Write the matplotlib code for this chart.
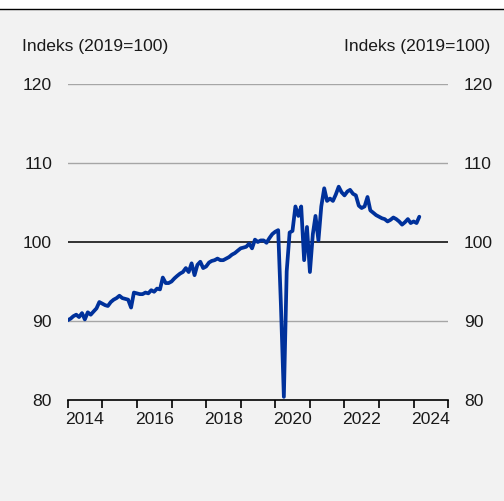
import matplotlib
matplotlib.use("Agg")
import matplotlib.pyplot as plt
import matplotlib.dates as mdates
import pandas as pd
import numpy as np

plt.rcParams['font.family'] = ['Liberation Sans', 'DejaVu Sans']

# Monthly index, 2019 = 100, January 2014 - March 2024
v2014 = [90.1, 90.3, 90.6, 90.8, 90.5, 91.0, 90.2, 91.1, 90.8, 91.2, 91.6, 92.4]
v2015 = [92.2, 92.0, 91.9, 92.4, 92.7, 92.9, 93.2, 92.9, 92.8, 92.7, 91.7, 93.6]
v2016 = [93.5, 93.4, 93.4, 93.6, 93.5, 93.9, 93.7, 94.1, 94.0, 95.5, 94.8, 94.8]
v2017 = [95.0, 95.4, 95.7, 96.0, 96.2, 96.7, 96.2, 97.3, 95.8, 97.1, 97.5, 96.7]
v2018 = [96.9, 97.4, 97.6, 97.7, 97.9, 97.7, 97.7, 97.9, 98.1, 98.4, 98.6, 98.9]
v2019 = [99.2, 99.3, 99.4, 99.8, 99.2, 100.3, 100.0, 100.2, 100.2, 99.9, 100.5, 101.0]
v2020 = [101.3, 101.5, 92.0, 80.4, 96.3, 101.2, 101.4, 104.5, 103.3, 104.5, 97.7, 101.9]
v2021 = [96.2, 101.0, 103.3, 100.2, 104.5, 106.8, 105.2, 105.5, 105.2, 106.0, 107.0, 106.3]
v2022 = [105.9, 106.4, 106.6, 106.1, 105.9, 104.6, 104.3, 104.5, 105.7, 104.0, 103.7, 103.4]
v2023 = [103.2, 103.0, 102.9, 102.6, 102.8, 103.1, 102.9, 102.6, 102.2, 102.5, 102.9, 102.4]
v2024 = [102.6, 102.4, 103.2]

values = v2014 + v2015 + v2016 + v2017 + v2018 + v2019 + v2020 + v2021 + v2022 + v2023 + v2024
dates = pd.date_range("2014-01-01", periods=len(values), freq="MS")

year_ticks = list(range(2014, 2026))
year_labels = ["2014", "2016", "2018", "2020", "2022", "2024"]
y_ticks = [80, 90, 100, 110, 120]
y_title = "Indeks (2019=100)"

W, H = 504, 501
fig = plt.figure(figsize=(W / 100, H / 100), dpi=100)
fig.patch.set_facecolor("white")

# grey panel below the top rule
fig.add_artist(plt.Rectangle((0, 0), 1, 1 - 9 / H, transform=fig.transFigure,
                             facecolor="#f2f2f2", edgecolor="none", zorder=0))
fig.add_artist(plt.Line2D([0, 1], [1 - 9 / H, 1 - 9 / H], transform=fig.transFigure,
                          color="black", lw=1.0, zorder=1))

left, right = 67.7 / W, 448.3 / W
bottom, top = 1 - 400 / H, 1 - 84 / H
ax = fig.add_axes([left, bottom, right - left, top - bottom])
ax.set_facecolor("none")

ax.set_ylim(80, 120)
ax.set_xlim(mdates.date2num(pd.Timestamp("2014-01-01")),
            mdates.date2num(pd.Timestamp("2025-01-01")))

for y in y_ticks[1:]:
    if y == 100:
        ax.axhline(y, color="#222222", lw=1.3, zorder=2)
    else:
        ax.axhline(y, color="#a6a6a6", lw=1.0, zorder=1)

ax.plot(dates, values, color="#00319b", lw=2.7, solid_joinstyle="round",
        solid_capstyle="round", zorder=3)

for s in ["top", "left", "right"]:
    ax.spines[s].set_visible(False)
ax.spines["bottom"].set_color("black")
ax.spines["bottom"].set_linewidth(1.2)
ax.spines["bottom"].set_zorder(4)

# year boundaries as tick marks, even-year labels at mid-year
ax.set_xticks([mdates.date2num(pd.Timestamp(f"{y}-01-01")) for y in year_ticks])
ax.set_xticklabels([])
ax.tick_params(axis="x", which="major", length=5.5, width=1.2, color="black", direction="out")
ax.set_xticks([mdates.date2num(pd.Timestamp(f"{lab}-07-01")) for lab in year_labels], minor=True)
ax.set_xticklabels(year_labels, minor=True)
ax.tick_params(axis="x", which="minor", length=0, pad=9, labelsize=12.6, labelcolor="#1a1a1a")

ax.set_yticks(y_ticks)
ax.set_yticklabels([str(t) for t in y_ticks])
ax.tick_params(axis="y", length=0, labelsize=12.6, labelcolor="#1a1a1a",
               left=True, right=True, labelleft=True, labelright=True)
ax.tick_params(axis="y", which="major", pad=11.3)
for lab in ax.get_yticklabels(which="major"):
    pass

fig.text(21.7 / W, 1 - 47 / H, y_title, ha="left", va="center", fontsize=12.6, color="#1a1a1a")
fig.text(490.5 / W, 1 - 47 / H, y_title, ha="right", va="center", fontsize=12.6, color="#1a1a1a")

fig.savefig("out.png", dpi=100, facecolor=fig.get_facecolor())
